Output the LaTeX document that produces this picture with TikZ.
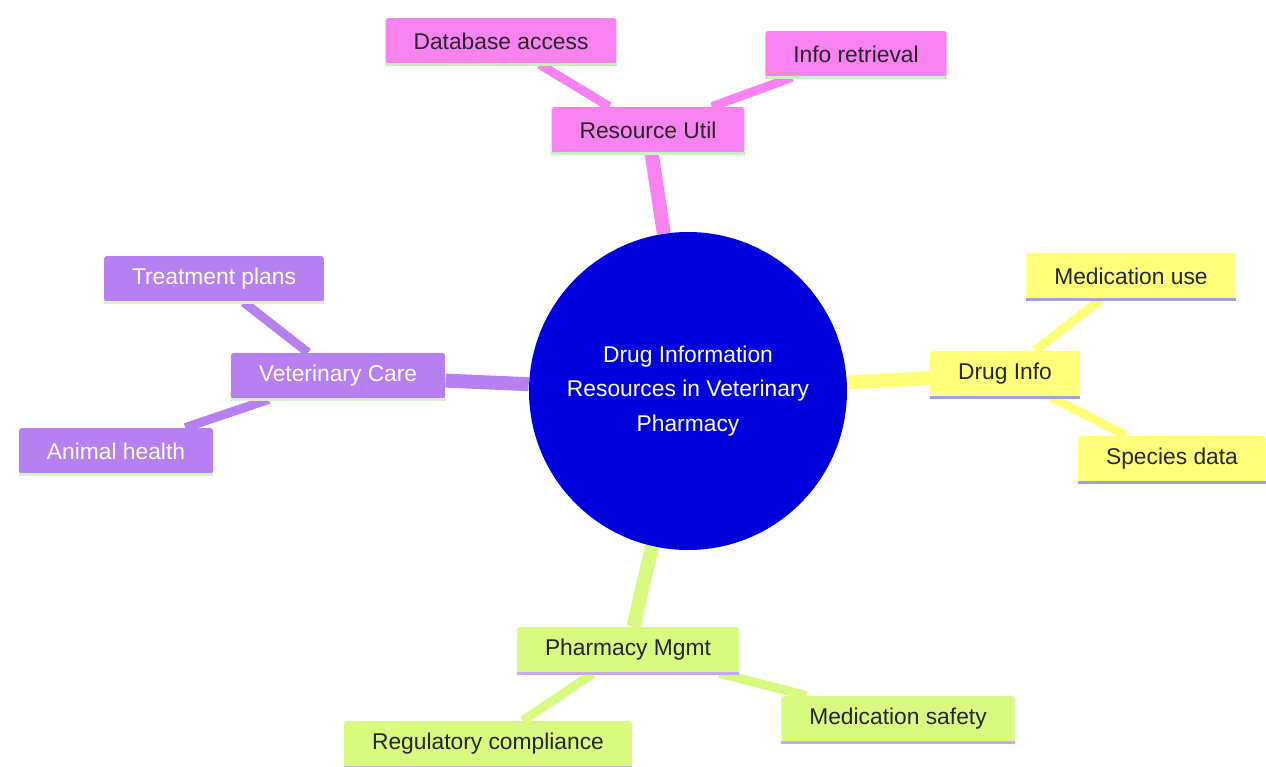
\documentclass[tikz,border=0pt]{standalone}
\usepackage{fontspec}
\setmainfont{Liberation Sans}
\usetikzlibrary{backgrounds}

\definecolor{rootblue}{HTML}{0000DC}
\definecolor{pinkfill}{HTML}{F782F0}
\definecolor{purplefill}{HTML}{B780F0}
\definecolor{yellowfill}{HTML}{FFFF7A}
\definecolor{greenfill}{HTML}{D8FA80}
\definecolor{pinkline}{HTML}{C8F0C0}
\definecolor{purpleline}{HTML}{D8F0D0}
\definecolor{yellowline}{HTML}{A0A0E6}
\definecolor{greenline}{HTML}{C8AAF0}

\tikzset{
  leaf/.style={rectangle, rounded corners=1.5pt, inner xsep=14pt, inner ysep=0pt,
    minimum height=23pt, font=\fontsize{11.4}{13}\selectfont},
  uline/.style={append after command={
    (\tikzlastnode.south west) edge[draw=#1, line width=1.5pt] (\tikzlastnode.south east)}},
  pinknode/.style={leaf, fill=pinkfill, text=black!85, uline=pinkline},
  purplenode/.style={leaf, fill=purplefill, text=white, uline=purpleline},
  yellownode/.style={leaf, fill=yellowfill, text=black!85, uline=yellowline},
  greennode/.style={leaf, fill=greenfill, text=black!85, uline=greenline},
  trunk/.style={line width=7pt, draw=#1},
  twig/.style={line width=4.5pt, draw=#1}
}

\begin{document}
\begin{tikzpicture}[x=0.5pt,y=-0.5pt]
  \useasboundingbox (0,0) rectangle (1266,767);

  \node (root) [circle, fill=rootblue, minimum size=159pt, inner sep=0pt, text=white,
    align=center, font=\fontsize{11.4}{17.2}\selectfont] at (688,391)
    {Drug Information\\Resources in Veterinary\\Pharmacy};

  % resource utilisation
  \node (resutil) [pinknode] at (648,130) {Resource Util};
  \node (dbaccess) [pinknode] at (501,41) {Database access};
  \node (inforet) [pinknode] at (856,54) {Info retrieval};

  % drug info
  \node (druginfo) [yellownode] at (1005,374) {Drug Info};
  \node (meduse) [yellownode] at (1131,276) {Medication use};
  \node (species) [yellownode] at (1172,459) {Species data};

  % pharmacy management
  \node (pharm) [greennode] at (628,650) {Pharmacy Mgmt};
  \node (medsafety) [greennode] at (898,719) {Medication safety};
  \node (regcomp) [greennode] at (488,744) {Regulatory compliance};

  % veterinary care
  \node (vetcare) [purplenode] at (338,376) {Veterinary Care};
  \node (treat) [purplenode] at (214,279) {Treatment plans};
  \node (animal) [purplenode] at (116,451) {Animal health};

  \begin{scope}[on background layer]
  \path
    (root) edge [trunk=pinkfill] (resutil)
    (resutil) edge [twig=pinkfill] (dbaccess)
    (resutil) edge [twig=pinkfill] (inforet)
    (root) edge [trunk=yellowfill] (druginfo)
    (druginfo) edge [twig=yellowfill] (meduse)
    (druginfo) edge [twig=yellowfill] (species)
    (root) edge [trunk=greenfill] (pharm)
    (pharm) edge [twig=greenfill] (medsafety)
    (pharm) edge [twig=greenfill] (regcomp)
    (root) edge [trunk=purplefill] (vetcare)
    (vetcare) edge [twig=purplefill] (treat)
    (vetcare) edge [twig=purplefill] (animal);
  \end{scope}
\end{tikzpicture}
\end{document}
